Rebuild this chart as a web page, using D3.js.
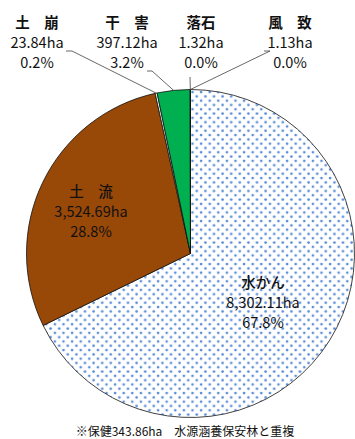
<!DOCTYPE html>
<html>
<head>
<meta charset="utf-8">
<script src="https://cdn.jsdelivr.net/npm/d3@7"></script>
<style>
  html, body { margin: 0; padding: 0; background: #fff; }
  svg { display: block; }
  text { font-family: "Noto Sans CJK JP", "Noto Sans", sans-serif; fill: #111; }
</style>
</head>
<body>
<svg id="chart" width="355" height="439"></svg>
<script>
// Protection forest area by purpose (ha)
const categories = ["水かん", "土流", "土崩", "干害", "落石", "風致"];
const labelNames = ["水かん", "土　流", "土　崩", "干　害", "落石", "風　致"];
const areas = [8302.11, 3524.69, 23.84, 397.12, 1.32, 1.13];
const footnote = "※保健343.86ha　水源涵養保安林と重複";

// Slice fills
const fills = ["url(#dots)", "#984807", "#ffffff", "#00b050", "#ffffff", "#ffffff"];

// Label placement: text centre, first baseline, name weight, leader start (null = inside label)
const labelLayout = [
  { x: 263, y: 288, w: 500, leader: null },
  { x: 91,  y: 197, w: 500, leader: null },
  { x: 37,  y: 28,  w: 700, leader: [[66, 51], [72, 51]] },
  { x: 127, y: 28,  w: 700, leader: [[147, 71], [152, 71]] },
  { x: 201, y: 28,  w: 700, leader: [[190, 77]] },
  { x: 290, y: 28,  w: 700, leader: [[264, 51], [270, 51]] }
];

const width = 355, height = 439;
const cx = 190.5, cy = 253.5, r = 164;

const svg = d3.select("#chart");

// Dotted fill pattern
const defs = svg.append("defs");
const pat = defs.append("pattern")
  .attr("id", "dots")
  .attr("patternUnits", "userSpaceOnUse")
  .attr("width", 8.6).attr("height", 8.6);
pat.append("rect").attr("width", 8.6).attr("height", 8.6).attr("fill", "#fff");
pat.append("circle").attr("cx", 2).attr("cy", 2).attr("r", 1.35).attr("fill", "#5b8dd8");
pat.append("circle").attr("cx", 6.3).attr("cy", 6.3).attr("r", 1.35).attr("fill", "#5b8dd8");

const total = d3.sum(areas);
const data = categories.map((c, i) => ({ cat: c, name: labelNames[i], value: areas[i], i }));

const pie = d3.pie().sort(null).value(d => d.value);
const arcs = pie(data);
const arc = d3.arc().innerRadius(0).outerRadius(r);

const g = svg.append("g").attr("transform", `translate(${cx},${cy})`);

g.selectAll("path.slice")
  .data(arcs)
  .join("path")
  .attr("class", "slice")
  .attr("d", arc)
  .attr("fill", d => fills[d.data.i])
  .attr("stroke", "#111")
  .attr("stroke-width", 0.8)
  .attr("stroke-linejoin", "round");

// Leader lines from labels to slice edge midpoints
const edgePoint = d => {
  const a = (d.startAngle + d.endAngle) / 2;
  return [cx + r * Math.sin(a), cy - r * Math.cos(a)];
};
arcs.forEach(d => {
  const lay = labelLayout[d.data.i];
  if (!lay.leader) return;
  const pts = lay.leader.concat([edgePoint(d)]);
  svg.append("path")
    .attr("d", d3.line()(pts))
    .attr("fill", "none")
    .attr("stroke", "#404040")
    .attr("stroke-width", 0.8);
});

// Labels: name, area, share
const fmtArea = d3.format(",.2f");
const fmtPct = d3.format(".1%");
arcs.forEach(d => {
  const lay = labelLayout[d.data.i];
  const lines = [d.data.name, fmtArea(d.data.value) + "ha", fmtPct(d.data.value / total)];
  const t = svg.append("text")
    .attr("text-anchor", "middle")
    .attr("font-size", 14.5);
  lines.forEach((s, k) => {
    t.append("tspan")
      .attr("x", lay.x)
      .attr("y", lay.y + k * 20)
      .attr("font-weight", k === 0 ? lay.w : 400)
      .text(s);
  });
});

svg.append("text")
  .attr("x", 185).attr("y", 436)
  .attr("text-anchor", "middle")
  .attr("font-size", 12)
  .text(footnote);
</script>
</body>
</html>
